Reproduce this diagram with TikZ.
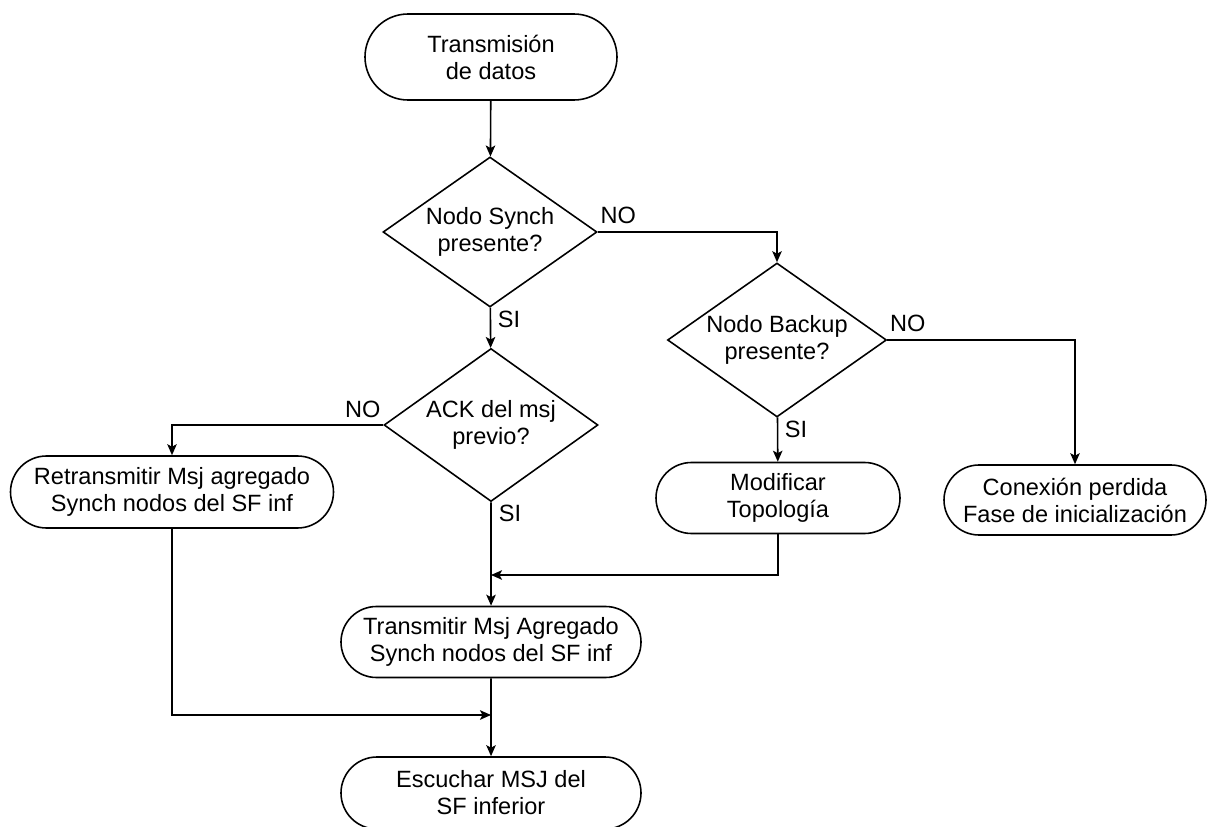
\documentclass[tikz,border=0pt]{standalone}
\usepackage{fontspec}
\setmainfont{Liberation Sans}
\usepackage{tikz}
\usetikzlibrary{positioning}
\usetikzlibrary{arrows.meta}
\usetikzlibrary{shapes.geometric}
\usetikzlibrary{shapes.misc}

\begin{document}
\begin{tikzpicture}[x=0.2mm, y=-0.2mm, line width=0.9pt, >={Stealth[length=0.22cm,width=0.19cm,inset=0.05cm]},
font=\fontsize{13.4}{15.4}\selectfont,
stadium/.style={rounded rectangle, draw, align=center, inner sep=0pt, minimum width=#1, minimum height=1.42cm},
stadium/.default=6cm,
decision/.style={diamond, draw, align=center, inner sep=0pt, aspect=1.43, minimum width=4.28cm, minimum height=3cm},
answer/.style={inner sep=0.04cm}]

\useasboundingbox (0,0) rectangle (1208,827);

%% bloques
\node [stadium=5.04cm, minimum height=1.72cm] (inicio) at (491,57) {Transmisión\\de datos};
\node [decision] (synch) at (490,232) {Nodo Synch\\presente?};
\node [decision, minimum width=4.38cm, minimum height=3.08cm] (backup) at (777,340) {Nodo Backup\\presente?};
\node [decision, minimum height=3.06cm] (ack) at (491,425) {ACK del msj\\previo?};
\node [stadium=6.46cm, minimum height=1.44cm] (retrans) at (172,492) {Retransmitir Msj agregado\\Synch nodos del SF inf};
\node [stadium=4.88cm] (modif) at (778,498) {Modificar\\Topología};
\node [stadium=5.24cm, minimum height=1.4cm] (perdida) at (1075,500) {Conexión perdida\\Fase de inicialización};
\node [stadium=6cm] (transmitir) at (491,642) {Transmitir Msj Agregado\\Synch nodos del SF inf};
\node [stadium=6cm, minimum height=1.44cm] (escuchar) at (491,793) {Escuchar MSJ del\\SF inferior};

%% respuestas
\node [answer, above right = 0.1cm and 0cm of synch.east] (noSynch) {NO};
\node [answer, below right = 0cm and 0.1cm of synch.south] (siSynch) {SI};
\node [answer, above right = 0.1cm and 0cm of backup.east] (noBackup) {NO};
\node [answer, below right = 0cm and 0.1cm of backup.south] (siBackup) {SI};
\node [answer, above left = 0.08cm and 0cm of ack.west] (noAck) {NO};
\node [answer, below right = 0cm and 0.1cm of ack.south] (siAck) {SI};

\coordinate (juntaModif) at (491,575);
\coordinate (juntaRetrans) at (491,715);

%% flechas
\draw [->] (inicio) -- (synch);
\draw [->] (synch.east) -| (backup.north);
\draw [->] (synch) -- (ack);
\draw [->] (backup) -- (modif);
\draw [->] (backup.east) -| (perdida.north);
\draw [->] (ack.west) -| (retrans.north);
\draw [->] (ack) -- (transmitir);
\draw [->] (modif.south) |- (juntaModif);
\draw [->] (transmitir) -- (escuchar);
\draw [->] (retrans.south) |- (juntaRetrans);

\end{tikzpicture}
\end{document}
